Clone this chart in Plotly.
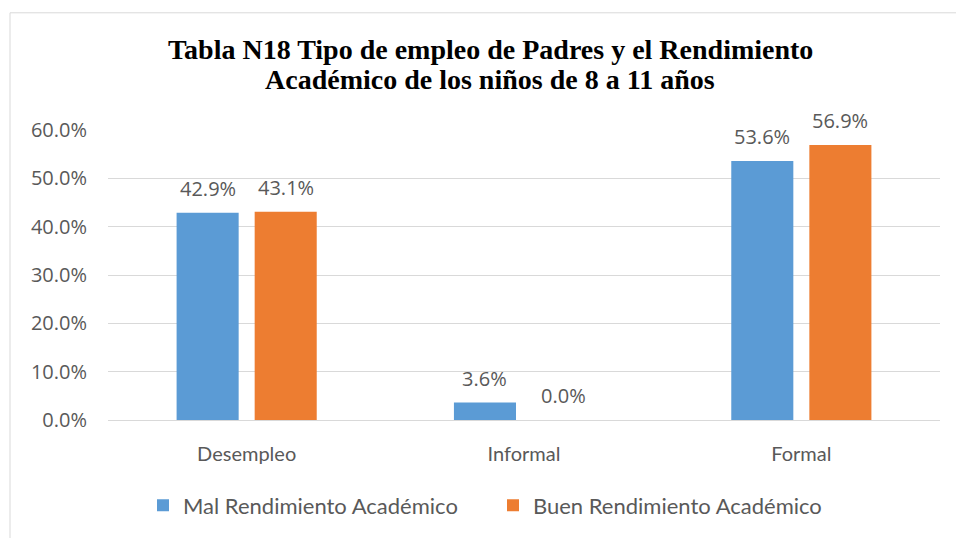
import plotly.graph_objects as go

categories = ["Desempleo", "Informal", "Formal"]
mal = [0.429, 0.036, 0.536]
buen = [0.431, 0.0, 0.569]
series_names = ["Mal Rendimiento Académico", "Buen Rendimiento Académico"]
tick_vals = [0, 0.1, 0.2, 0.3, 0.4, 0.5, 0.6]
tick_text = ["0.0%", "10.0%", "20.0%", "30.0%", "40.0%", "50.0%", "60.0%"]
title_lines = ["Tabla N18 Tipo de empleo de Padres y el Rendimiento",
               "Académico de los niños de 8 a 11 años"]

colors = ["#5B9BD5", "#ED7D31"]
txt_font = "Lato, sans-serif"
num_font = "'Open Sans', sans-serif"
serif = "'Liberation Serif', 'Times New Roman', serif"
gray = "#595959"

L, R, T, B = 108, 16, 130, 116
W, H = 956, 538
pw, ph = W - L - R, H - T - B
bargap, bargroupgap = 0.437, 0.205
slot = pw / len(categories) * (1 - bargap) / 2

fig = go.Figure()
annotations = []
for i, (name, vals, c) in enumerate(zip(series_names, [mal, buen], colors)):
    fig.add_trace(go.Bar(
        x=categories, y=vals, name=name, marker=dict(color=c, line=dict(width=0)),
    ))
    shift = (i - 0.5) * slot
    for cat, v in zip(categories, vals):
        annotations.append(dict(
            x=cat, y=v, xref="x", yref="y", text=f"{v*100:.1f}%", showarrow=False,
            xshift=shift, yanchor="bottom", yshift=9,
            font=dict(family=num_font, size=20, color=gray),
        ))

for k, line in enumerate(title_lines):
    annotations.append(dict(
        x=(490 - L) / pw, y=(H - B - (49 + 30 * k)) / ph, xref="paper", yref="paper",
        xanchor="center", yanchor="middle", showarrow=False,
        text=f"<b>{line}</b>", font=dict(family=serif, size=28, color="black"),
    ))

fig.update_layout(
    width=W, height=H,
    margin=dict(l=L, r=R, t=T, b=B),
    paper_bgcolor="white", plot_bgcolor="white",
    barmode="group", bargap=bargap, bargroupgap=bargroupgap,
    annotations=annotations,
    legend=dict(
        orientation="h", x=(143 - L) / pw, xanchor="left", y=-(508 - 422) / ph, yanchor="middle",
        font=dict(family=txt_font, size=22, color=gray), traceorder="normal",
        entrywidth=305, entrywidthmode="pixels",
    ),
    yaxis=dict(
        range=[0, 0.6], tickvals=tick_vals, ticktext=tick_text,
        gridcolor="#D9D9D9", gridwidth=1, zeroline=False, showline=False,
        tickfont=dict(family=num_font, size=20, color=gray), ticklabelstandoff=20,
    ),
    xaxis=dict(
        showline=True, linecolor="#D9D9D9", linewidth=1,
        tickfont=dict(family=txt_font, size=20, color=gray), ticklabelstandoff=16,
    ),
    shapes=[dict(
        type="path", xref="paper", yref="paper",
        path=f"M {(10 - L) / pw} {-(H + 5 - (H - B)) / ph} L {(10 - L) / pw} {(H - B - 12) / ph} L {(W + 5 - L) / pw} {(H - B - 12) / ph}",
        line=dict(color="#D9D9D9", width=1),
    )],
)

fig.write_html("out.html", post_script="document.body.style.margin='0';",
               config={"displayModeBar": False})
